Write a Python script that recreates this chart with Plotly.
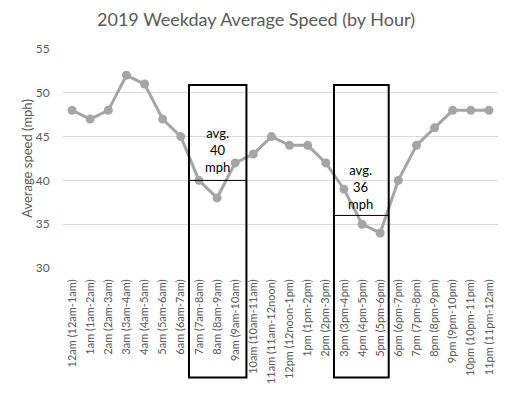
import plotly.graph_objects as go

hours = ["12am (12am-1am)", "1am (1am-2am)", "2am (2am-3am)", "3am (3am-4am)",
         "4am (4am-5am)", "5am (5am-6am)", "6am (6am-7am)", "7am (7am-8am)",
         "8am (8am-9am)", "9am (9am-10am)", "10am (10am-11am)", "11am (11am-12noon)",
         "12pm (12noon-1pm)", "1pm (1pm-2pm)", "2pm (2pm-3pm)", "3pm (3pm-4pm)",
         "4pm (4pm-5pm)", "5pm (5pm-6pm)", "6pm (6pm-7pm)", "7pm (7pm-8pm)",
         "8pm (8pm-9pm)", "9pm (9pm-10pm)", "10pm (10pm-11pm)", "11pm (11pm-12am)"]
speeds = [48, 47, 48, 52, 51, 47, 45, 40, 38, 42, 43, 45,
          44, 44, 42, 39, 35, 34, 40, 44, 46, 48, 48, 48]

# rush-hour windows: (first index, last index, average)
peaks = [(7, 9, 40), (15, 17, 36)]

FONT = "Lato"
GRAY = "#595959"

fig = go.Figure()
fig.add_trace(go.Scatter(
    x=list(range(len(hours))), y=speeds, mode="lines+markers",
    line=dict(color="#A5A5A5", width=3),
    marker=dict(color="#A5A5A5", size=9),
    showlegend=False, hoverinfo="skip"))

shapes = []
annotations = []
for i0, i1, avg in peaks:
    x0, x1 = i0 - 0.55, i1 + 0.62 if i0 == 7 else i1 + 0.47
    shapes.append(dict(type="rect", xref="x", yref="paper", x0=x0, x1=x1,
                       y0=-0.50, y1=0.836, line=dict(color="black", width=2),
                       fillcolor="rgba(0,0,0,0)", layer="above"))
    shapes.append(dict(type="line", xref="x", yref="y", x0=x0, x1=x1,
                       y0=avg, y1=avg, line=dict(color="black", width=1)))
    annotations.append(dict(x=(i0 + i1) / 2 + (0 if i0 == 7 else -0.1),
                            y=avg + (3.5 if i0 == 7 else 3.2),
                            xref="x", yref="y",
                            text=f"avg.<br>{avg}<br>mph", showarrow=False,
                            font=dict(family=FONT, size=13, color="black")))

fig.update_layout(
    width=512, height=399,
    margin=dict(l=63, r=14, t=49, b=131),
    paper_bgcolor="white", plot_bgcolor="white",
    title=dict(text="2019 Weekday Average Speed (by Hour)", x=0.5, xanchor="center",
               y=0.95, yanchor="middle",
               font=dict(family=FONT, size=18, color=GRAY)),
    xaxis=dict(tickmode="array", tickvals=list(range(len(hours))), ticktext=hours,
               range=[-0.5, len(hours) - 0.5], tickangle=-90,
               tickfont=dict(family=FONT, size=11, color=GRAY),
               showgrid=False, zeroline=False, showline=False,
               ticks="outside", ticklen=6, tickcolor="white"),
    yaxis=dict(range=[30, 55], dtick=5, showgrid=True, gridcolor="#D9D9D9",
               gridwidth=1, zeroline=False, showline=False,
               tickfont=dict(family=FONT, size=12, color=GRAY),
               ticks="outside", ticklen=10, tickcolor="white",
               title=dict(text="Average speed (mph)", standoff=0,
                          font=dict(family=FONT, size=13, color=GRAY))),
    shapes=shapes, annotations=annotations,
)

fig.write_html("out.html", config={"displayModeBar": False},
               post_script="document.body.style.margin='0';document.body.style.overflow='hidden';")
